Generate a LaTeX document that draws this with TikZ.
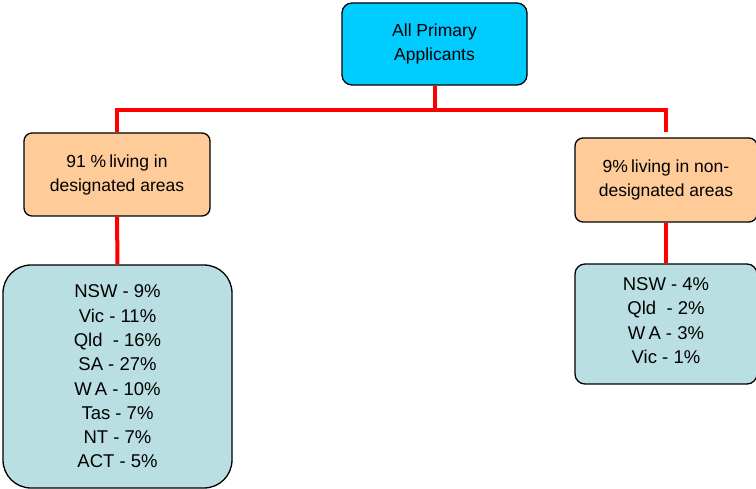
\documentclass[tikz,border=0pt]{standalone}
\usepackage{fontspec}
\setmainfont{Liberation Sans}
\definecolor{topfill}{HTML}{00CCFF}
\definecolor{midfill}{HTML}{FFCC99}
\definecolor{botfill}{HTML}{BADFE3}
\definecolor{linkred}{HTML}{FF0000}
\begin{document}
\begin{tikzpicture}[x=1pt,y=1pt,
  box/.style={draw=black, line width=1.3pt, align=center, inner sep=0pt,
    font=\fontsize{17.5}{24}\selectfont},
  bigtext/.style={font=\fontsize{18.5}{24.3}\selectfont},
  link/.style={draw=linkred, line width=4pt}]
\useasboundingbox (0,0) rectangle (756,-489);
\node[box, fill=topfill, rounded corners=10pt, minimum width=185pt, minimum height=82pt]
  (top) at (434.5,-44) {All Primary\\Applicants};
\node[box, fill=midfill, rounded corners=8pt, minimum width=186pt, minimum height=83pt]
  (lmid) at (117,-174.5) {91 \%\hspace{3pt}living in\\designated areas};
\node[box, fill=midfill, rounded corners=8pt, minimum width=182pt, minimum height=84pt]
  (rmid) at (666,-180) {9\%\hspace{3pt}living in non-\\designated areas};
\node[box, bigtext, fill=botfill, rounded corners=28pt, minimum width=229pt, minimum height=223pt]
  (lbot) at (117.5,-376.5) {NSW - 9\%\\Vic - 11\%\\Qld\ \ - 16\%\\SA - 27\%\\W\,A - 10\%\\Tas - 7\%\\NT - 7\%\\ACT - 5\%};
\node[box, fill=botfill, rounded corners=10pt, minimum width=182pt, minimum height=120pt]
  (rbot) at (666,-324) {};
\node[bigtext, align=center, inner sep=0pt]
  (rbottext) at (666,-320.5) {NSW - 4\%\\Qld\ \ - 2\%\\W\,A - 3\%\\Vic - 1\%};
\coordinate (hub) at (434.5,-110);
\draw[link] (top.south) -- (hub);
\draw[link] (hub) -| (lmid.north);
\draw[link, shorten >=5pt] (hub) -| (rmid.north);
\draw[link] (lmid.south) -- (lbot.north);
\draw[link] (rmid.south) -- (rbot.north);
\end{tikzpicture}
\end{document}
